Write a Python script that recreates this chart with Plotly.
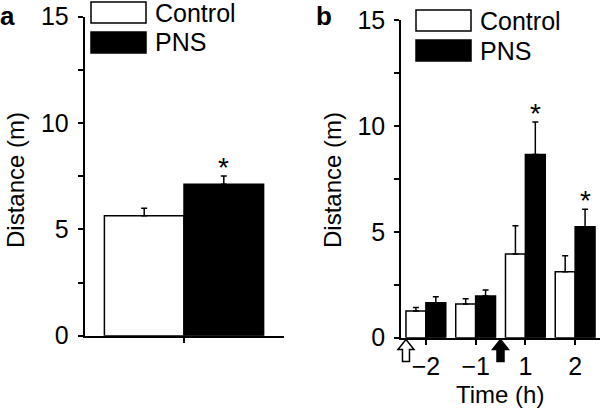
import plotly.graph_objects as go

# panel a: whole session
a_groups = ["Total"]
a_control = [5.64]
a_control_err = [0.35]
a_pns = [7.12]
a_pns_err = [0.39]

# panel b: hourly
b_times = ["\u22122", "\u22121", "1", "2"]
b_control = [1.26, 1.59, 3.95, 3.11]
b_control_err = [0.17, 0.25, 1.33, 0.76]
b_pns = [1.65, 1.97, 8.65, 5.24]
b_pns_err = [0.28, 0.28, 1.54, 0.83]
b_signif = [False, False, True, True]

W, H = 600, 408
FONT = "Liberation Sans, Arial, Helvetica, sans-serif"


def px(x):
    return x / W


def py(y):
    return 1 - y / H


def err(vals):
    return dict(type="data", symmetric=False, array=vals, arrayminus=[0] * len(vals),
                color="black", thickness=1.5, width=3)


fig = go.Figure()

fig.add_trace(go.Bar(x=a_groups, y=a_control, error_y=err(a_control_err), name="Control",
                     marker=dict(color="white", line=dict(color="black", width=1.5)),
                     xaxis="x", yaxis="y", showlegend=False))
fig.add_trace(go.Bar(x=a_groups, y=a_pns, error_y=err(a_pns_err), name="PNS",
                     marker=dict(color="black", line=dict(color="black", width=1.5)),
                     xaxis="x", yaxis="y", showlegend=False))
fig.add_trace(go.Bar(x=b_times, y=b_control, error_y=err(b_control_err), name="Control",
                     marker=dict(color="white", line=dict(color="black", width=1.5)),
                     xaxis="x2", yaxis="y2", showlegend=False))
fig.add_trace(go.Bar(x=b_times, y=b_pns, error_y=err(b_pns_err), name="PNS",
                     marker=dict(color="black", line=dict(color="black", width=1.5)),
                     xaxis="x2", yaxis="y2", showlegend=False))

yt = [0, 2.5, 5, 7.5, 10, 12.5, 15]
ytt = ["0", "", "5", "", "10", "", "15"]
axis_common = dict(showline=True, linecolor="black", linewidth=1.5, ticks="outside",
                   tickcolor="black", tickwidth=1.5, showgrid=False, zeroline=False,
                   automargin=False,
                   tickfont=dict(family=FONT, size=25, color="black"))

# axis pixel geometry
ax_a = (84.5, 283.5, 335.7, 16.7)
ax_b = (401.0, 600.0, 337.7, 20.0)

fig.update_layout(
    template="none",
    width=W, height=H,
    margin=dict(l=0, r=0, t=0, b=0),
    paper_bgcolor="white", plot_bgcolor="white",
    showlegend=False,
    barmode="group", bargap=0.2, bargroupgap=0,
    font=dict(family=FONT, size=24, color="black"),
    xaxis=dict(domain=[px(ax_a[0]), px(ax_a[1])], type="category", range=[-0.5, 0.5],
               showticklabels=False, ticklen=6, anchor="y", **axis_common),
    yaxis=dict(domain=[py(ax_a[2]), py(ax_a[3])], range=[0, 15], tickvals=yt, ticktext=ytt,
               ticklen=5, anchor="x", ticklabelstandoff=4, **axis_common),
    xaxis2=dict(domain=[px(ax_b[0]), px(ax_b[1])], type="category", range=[-0.5, 3.5],
                ticklen=6, anchor="y2", **axis_common),
    yaxis2=dict(domain=[py(ax_b[2]), py(ax_b[3])], range=[0, 15], tickvals=yt, ticktext=ytt,
                ticklen=5, anchor="x2", ticklabelstandoff=4, **axis_common),
)

ann = []
shapes = []

# significance stars (x as category index)
unit_a = (ax_a[1] - ax_a[0])
ann.append(dict(x=0, y=a_pns[0] + a_pns_err[0], xref="x", yref="y", text="*",
                showarrow=False, xshift=0.2 * unit_a, yanchor="bottom", yshift=-9,
                font=dict(size=28)))
unit_b = (ax_b[1] - ax_b[0]) / 4
for i, (v, e, s) in enumerate(zip(b_pns, b_pns_err, b_signif)):
    if s:
        ann.append(dict(x=i, y=v + e, xref="x2", yref="y2", text="*", showarrow=False,
                        xshift=0.2 * unit_b, yanchor="bottom", yshift=-9, font=dict(size=28)))

# axis titles
ann.append(dict(x=px(15), y=py(180), xref="paper", yref="paper", text="Distance (m)",
                textangle=-90, showarrow=False, xanchor="center", yanchor="middle"))
ann.append(dict(x=px(332), y=py(180), xref="paper", yref="paper", text="Distance (m)",
                textangle=-90, showarrow=False, xanchor="center", yanchor="middle"))
ann.append(dict(x=px(500.5), y=py(394), xref="paper", yref="paper", text="Time (h)",
                showarrow=False, xanchor="center", yanchor="middle"))

# panel letters
ann.append(dict(x=px(-1), y=py(0), xref="paper", yref="paper", text="<b>a</b>",
                showarrow=False, xanchor="left", yanchor="top", borderpad=0,
                font=dict(size=26)))
ann.append(dict(x=px(315), y=py(0), xref="paper", yref="paper", text="<b>b</b>",
                showarrow=False, xanchor="left", yanchor="top", borderpad=0,
                font=dict(size=26)))

# legends drawn as large boxes
def legend(x0, y0, y1):
    for (top, fill, label) in [(y0, "white", "Control"), (y1, "black", "PNS")]:
        shapes.append(dict(type="rect", xref="paper", yref="paper",
                           x0=px(x0), x1=px(x0 + 55), y0=py(top), y1=py(top + 21),
                           fillcolor=fill, line=dict(color="black", width=1.5)))
        ann.append(dict(x=px(x0 + 62), y=py(top + 10.5), xref="paper", yref="paper",
                        text=label, showarrow=False, xanchor="left", yanchor="middle",
                        font=dict(size=25)))

legend(91, 2, 32)
legend(416, 10, 40)

# arrows below time axis (open = first session, filled = PNS)
def arrow(c, fill):
    cx = ax_b[0] + (c + 0.5) * unit_b
    tip, base, bot = 339.5, 349.5, 361.5
    hw, sw = 8, 3.5
    path = (f"M {px(cx)} {py(tip)} L {px(cx + hw)} {py(base)} L {px(cx + sw)} {py(base)} "
            f"L {px(cx + sw)} {py(bot)} L {px(cx - sw)} {py(bot)} L {px(cx - sw)} {py(base)} "
            f"L {px(cx - hw)} {py(base)} Z")
    shapes.append(dict(type="path", xref="paper", yref="paper", path=path,
                       fillcolor=fill, line=dict(color="black", width=1.5)))

arrow(-0.4, "white")
arrow(1.5, "black")

fig.update_layout(annotations=ann, shapes=shapes)

# drop the page's default body margin so the 600x408 figure fills the window
fig.write_html("out.html", config={"displayModeBar": False},
               post_script="document.body.style.margin='0';")
